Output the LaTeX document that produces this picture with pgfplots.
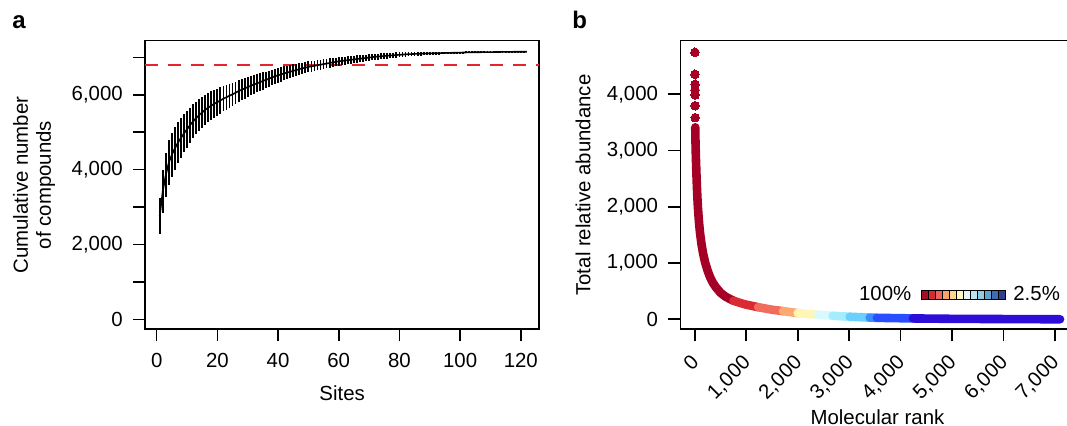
\documentclass[border=0pt]{standalone}
\usepackage{fontspec}
\setmainfont{Liberation Sans}
\usepackage{pgfplots}
\pgfplotsset{compat=1.18}

\definecolor{dashred}{RGB}{230,36,46}
\definecolor{c1}{RGB}{165,0,38}
\definecolor{c2}{RGB}{218,42,52}
\definecolor{c3}{RGB}{240,108,92}
\definecolor{c4}{RGB}{252,168,112}
\definecolor{c5}{RGB}{255,246,182}
\definecolor{c6}{RGB}{216,250,255}
\definecolor{c7}{RGB}{165,236,255}
\definecolor{c8}{RGB}{108,208,255}
\definecolor{c9}{RGB}{58,140,255}
\definecolor{c10}{RGB}{40,78,255}
\definecolor{c11}{RGB}{44,14,216}
\definecolor{lg1}{HTML}{A50F26}
\definecolor{lg2}{HTML}{D52A30}
\definecolor{lg3}{HTML}{E8645A}
\definecolor{lg4}{HTML}{F4A46C}
\definecolor{lg5}{HTML}{FDD790}
\definecolor{lg6}{HTML}{FEF6C4}
\definecolor{lg7}{HTML}{E4F4F8}
\definecolor{lg8}{HTML}{BDE3EF}
\definecolor{lg9}{HTML}{92CAE3}
\definecolor{lg10}{HTML}{5FA3D2}
\definecolor{lg11}{HTML}{3E6DB3}
\definecolor{lg12}{HTML}{2F3F8E}

\newcommand{\tfont}{\fontsize{10.2}{11.5}\selectfont}

\pgfplotsset{
  rpanel/.style={
    scale only axis, anchor=south west,
    width=197.15pt, height=144.3pt,
    axis line style={line width=0.8pt},
    every tick/.style={black, line width=0.8pt},
    tick align=outside, major tick length=6pt, minor tick length=6pt,
    xtick pos=bottom, ytick pos=left,
    tick label style={font=\tfont},
    label style={font=\tfont},
    /pgf/number format/assume math mode=true,
    /pgf/number format/1000 sep={,},
    yticklabel style={xshift=-1.6pt},
    clip=true,
  }
}

\begin{document}
\begin{tikzpicture}
\useasboundingbox (0pt,0pt) rectangle (533.5pt,213pt);

% panel a
\begin{axis}[rpanel, at={(72.5pt,48.35pt)},
  xmin=-3.85, xmax=126.1, ymin=-262, ymax=7445,
  xtick={0,20,...,120},
  ytick={0,2000,4000,6000}, minor ytick={1000,3000,5000,7000},
  xticklabel style={yshift=-2.4pt},
  xlabel={Sites},
  xlabel style={at={(axis description cs:0.5,-0.2207)}, anchor=center},
  ylabel={Cumulative number\\of compounds},
  ylabel style={at={(axis description cs:-0.2815,0.5)}, anchor=center, align=center},
]
\addplot[dashred, line width=1pt, dash pattern=on 6.5pt off 5pt] coordinates {(-3.85,6790) (126.1,6790)};
\addplot[black, line width=0.8pt, mark=none,
  error bars/.cd, y dir=both, y explicit, error mark=none,
  error bar style={line width=0.9pt, black}]
  table[x=x, y=y, y error=e] {
x y e
1 2766 470
2 3420 585
3 3860 590
4 4190 590
5 4400 590
6 4570 570
7 4720 550
8 4850 530
9 4970 510
10 5080 490
11 5190 470
12 5290 455
13 5380 440
14 5460 425
15 5530 410
16 5600 400
17 5660 390
18 5710 380
19 5760 370
20 5805 360
21 5850 350
22 5895 340
23 5935 330
24 5975 320
25 6015 310
26 6055 300
27 6100 290
28 6135 282
29 6170 274
30 6205 266
31 6240 258
32 6275 250
33 6305 243
34 6335 236
35 6370 229
36 6400 222
37 6430 216
38 6465 210
39 6495 204
40 6520 198
41 6545 192
42 6570 186
43 6595 181
44 6615 176
45 6640 171
46 6660 166
47 6685 161
48 6705 156
49 6725 152
50 6745 148
51 6760 144
52 6775 140
53 6790 136
54 6805 132
55 6820 128
56 6835 125
57 6850 122
58 6865 119
59 6880 116
60 6895 113
61 6905 110
62 6915 107
63 6925 104
64 6935 101
65 6945 98
66 6955 95
67 6965 92
68 6975 90
69 6985 88
70 6995 86
71 7005 84
72 7015 82
73 7022 80
74 7029 78
75 7036 76
76 7043 74
77 7050 72
78 7056 70
79 7062 68
80 7068 66
81 7074 64
82 7080 62
83 7084 60
84 7088 58
85 7091 56
86 7094 54
87 7097 52
88 7100 50
89 7103 48
90 7106 46
91 7108 44
92 7110 42
93 7113 40
94 7115 38
95 7117 36
96 7119 34
97 7121 32
98 7123 30
99 7125 29
100 7127 28
101 7129 27
102 7131 26
103 7133 25
104 7135 24
105 7136 23
106 7137 22
107 7138 21
108 7139 20
109 7140 19
110 7141 18
111 7142 17
112 7143 16
113 7144 15
114 7145 14
115 7146 13
116 7147 12
117 7148 11
118 7149 10
119 7150 8
120 7150 6
121 7151 4
122 7151 0
};
\end{axis}

% panel b
\begin{axis}[rpanel, at={(340.15pt,48.35pt)},
  xmin=-283, xmax=7383, ymin=-178, ymax=4953,
  xtick={0,1000,...,7000}, ytick={0,1000,...,4000},
  xticklabel style={rotate=45, anchor=north east, inner sep=0pt, xshift=-6pt, yshift=-2.5pt},
  xlabel={Molecular rank},
  xlabel style={at={(axis description cs:0.5,-0.304)}, anchor=center},
  ylabel={Total relative abundance},
  ylabel style={at={(axis description cs:-0.2468,0.5)}, anchor=center},
]
\addplot[only marks, mark=*, mark size=2.15pt, c1, mark options={line width=0pt}] coordinates {
(1,4747) (2,4356) (3,4178) (4,4076) (5,3988) (6,3797) (7,3584)};
\addplot[c1, line width=4.3pt, line cap=round, line join=round] coordinates {
(8,3413) (10,3250) (15,3050) (20,2880) (30,2600) (40,2350) (50,2150) (60,1980)
(80,1730) (100,1540) (130,1330) (160,1170) (200,1010) (250,860) (300,740)
(350,650) (400,580) (500,470) (600,400) (750,330)};
\addplot[c2, line width=4.3pt, line cap=round, line join=round] coordinates {
(750,330) (900,285) (1000,260) (1230,215)};
\addplot[c3, line width=4.3pt, line cap=round, line join=round] coordinates {
(1230,215) (1500,170) (1715,145)};
\addplot[c4, line width=4.3pt, line cap=round, line join=round] coordinates {
(1715,145) (2000,110)};
\addplot[c5, line width=4.3pt, line cap=round, line join=round] coordinates {
(2000,110) (2390,80)};
\addplot[c6, line width=4.3pt, line cap=round, line join=round] coordinates {
(2390,80) (2680,62)};
\addplot[c7, line width=4.3pt, line cap=round, line join=round] coordinates {
(2680,62) (3010,45)};
\addplot[c8, line width=4.3pt, line cap=round, line join=round] coordinates {
(3010,45) (3400,30)};
\addplot[c9, line width=4.3pt, line cap=round, line join=round] coordinates {
(3400,30) (3540,26)};
\addplot[c10, line width=4.3pt, line cap=round, line join=round] coordinates {
(3540,26) (4240,15)};
\addplot[c11, line width=4.3pt, line cap=round, line join=round] coordinates {
(4240,15) (5000,8) (6000,4) (7100,0)};
\end{axis}

% colour key
\foreach \i in {1,...,12} {
  \fill[lg\i] ({460.85pt+(\i-1)*3.47pt},63.35pt) rectangle ({460.85pt+\i*3.47pt},68pt);
  \draw[black, line width=0.4pt] ({460.85pt+(\i-1)*3.47pt},63.35pt) rectangle ({460.85pt+\i*3.47pt},68pt);
}
\node[anchor=base east, inner sep=0pt, font=\tfont] at (455.85pt,62.65pt) {100\%};
\node[anchor=base west, inner sep=0pt, font=\tfont] at (506.5pt,62.65pt) {2.5\%};

% panel letters
\node[anchor=base west, inner sep=0pt, font=\fontsize{12}{14}\selectfont\bfseries] at (6pt,198.5pt) {a};
\node[anchor=base west, inner sep=0pt, font=\fontsize{12}{14}\selectfont\bfseries] at (286pt,198.5pt) {b};
\end{tikzpicture}
\end{document}
